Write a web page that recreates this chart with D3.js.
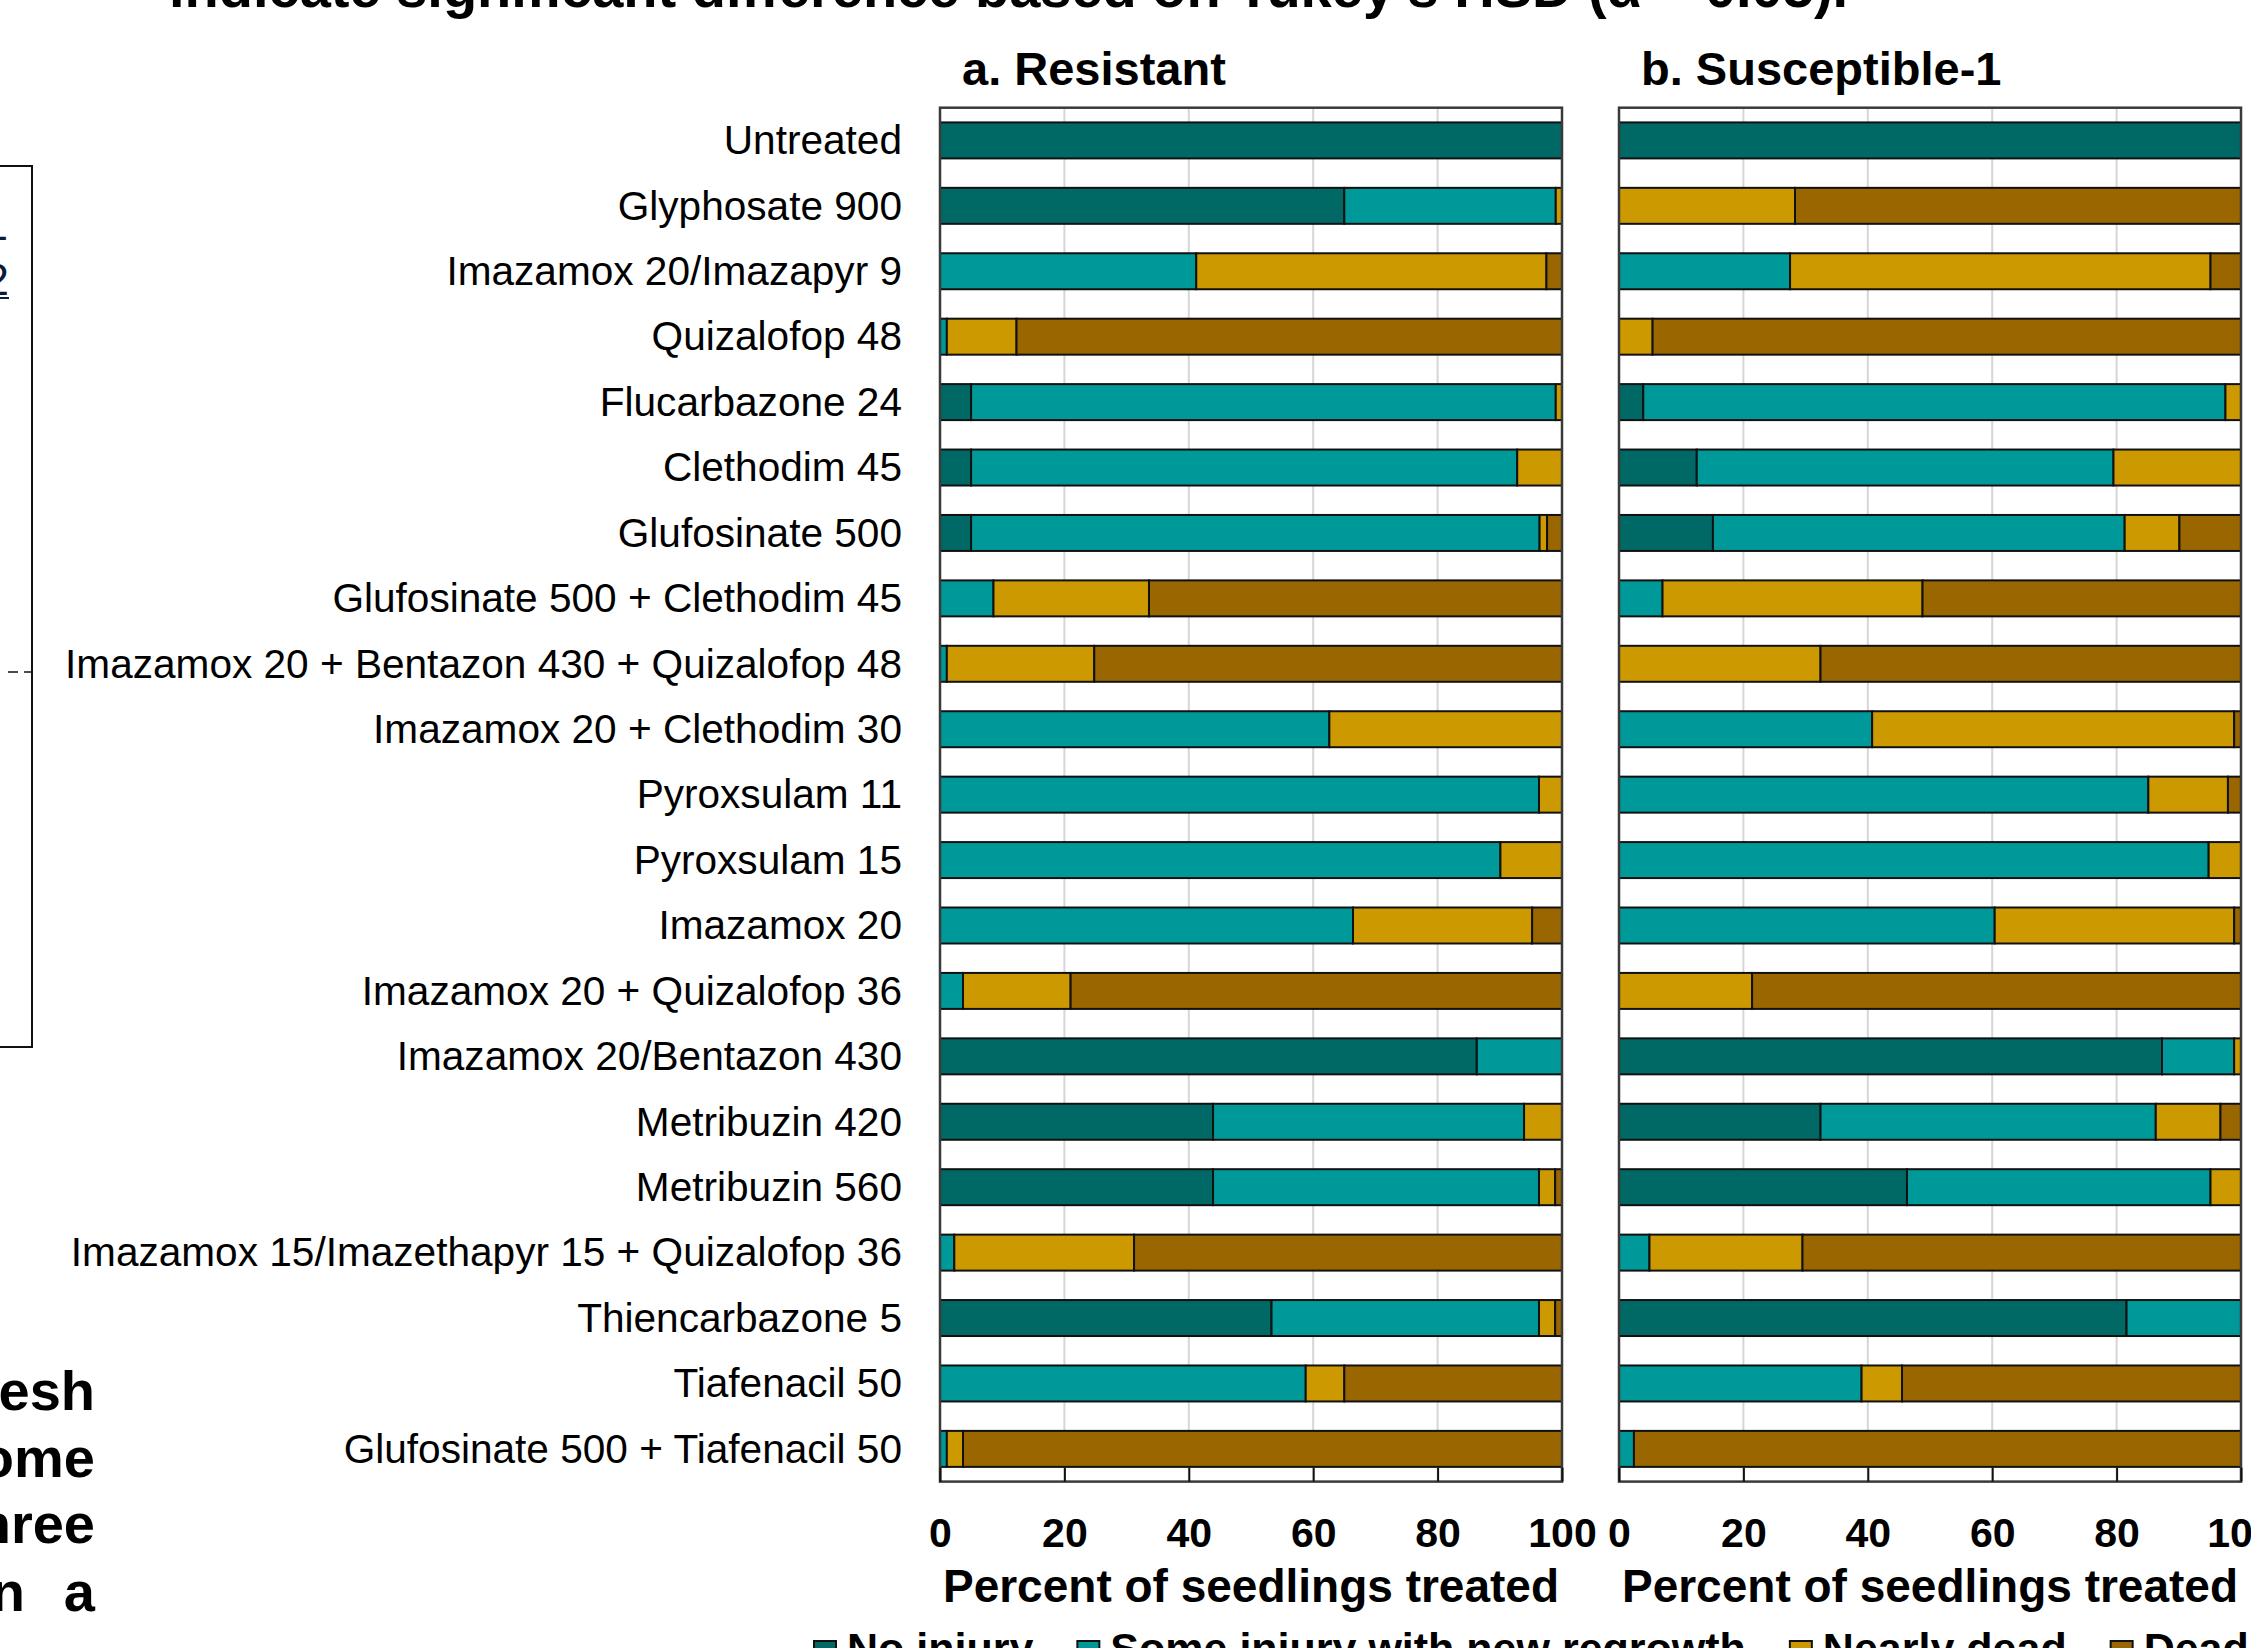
<!DOCTYPE html>
<html>
<head>
<meta charset="utf-8">
<script src="https://cdn.jsdelivr.net/npm/d3@7"></script>
<style>
  html, body { margin: 0; padding: 0; background: #fff; }
  svg { display: block; }
  text { font-family: "Liberation Sans", Arial, Helvetica, sans-serif; }
</style>
</head>
<body>
<svg id="chart" width="2251" height="1648"></svg>
<script>
// Herbicide treatments (top to bottom)
const treatments = [
  "Untreated",
  "Glyphosate 900",
  "Imazamox 20/Imazapyr 9",
  "Quizalofop 48",
  "Flucarbazone 24",
  "Clethodim 45",
  "Glufosinate 500",
  "Glufosinate 500 + Clethodim 45",
  "Imazamox 20 + Bentazon 430 + Quizalofop 48",
  "Imazamox 20 + Clethodim 30",
  "Pyroxsulam 11",
  "Pyroxsulam 15",
  "Imazamox 20",
  "Imazamox 20 + Quizalofop 36",
  "Imazamox 20/Bentazon 430",
  "Metribuzin 420",
  "Metribuzin 560",
  "Imazamox 15/Imazethapyr 15 + Quizalofop 36",
  "Thiencarbazone 5",
  "Tiafenacil 50",
  "Glufosinate 500 + Tiafenacil 50"
];

const injuryClasses = ["No injury", "Some injury with new regrowth", "Nearly dead", "Dead"];
const classColors = ["#006966", "#009999", "#CC9900", "#996600"];
const xTicks = [0, 20, 40, 60, 80, 100];

// a. Resistant population (% of seedlings treated)
const resistantNoInjury   = [100, 65, 0, 0, 5, 5, 5, 0, 0, 0, 0, 0, 0, 0, 86.3, 43.9, 43.9, 0, 53.3, 0, 0];
const resistantSomeInjury = [0, 34, 41.2, 1.1, 94, 87.8, 91.4, 8.6, 1.1, 62.6, 96.3, 90.1, 66.4, 3.7, 13.7, 50, 52.4, 2.3, 43, 58.8, 1.1];
const resistantNearlyDead = [0, 1, 56.3, 11.2, 1, 7.2, 1.2, 25, 23.7, 37.4, 3.7, 9.9, 28.8, 17.3, 0, 6.1, 2.6, 28.9, 2.6, 6.2, 2.6];
const resistantDead       = [0, 0, 2.5, 87.7, 0, 0, 2.4, 66.4, 75.2, 0, 0, 0, 4.8, 79, 0, 0, 1.1, 68.8, 1.1, 35, 96.3];

// b. Susceptible-1 population (% of seedlings treated)
const susceptibleNoInjury   = [100, 0, 0, 0, 3.9, 12.5, 15.1, 0, 0, 0, 0, 0, 0, 0, 87.3, 32.4, 46.3, 0, 81.6, 0, 0];
const susceptibleSomeInjury = [0, 0, 27.5, 0, 93.6, 67, 66.2, 7, 0, 40.7, 85.1, 94.8, 60.4, 0, 11.6, 53.9, 48.8, 4.9, 18.4, 39, 2.4];
const susceptibleNearlyDead = [0, 28.3, 67.6, 5.4, 2.5, 20.5, 8.8, 41.8, 32.4, 58.2, 12.8, 5.2, 38.5, 21.4, 1.1, 10.4, 4.9, 24.6, 0, 6.5, 0];
const susceptibleDead       = [0, 71.7, 4.9, 94.6, 0, 0, 9.9, 51.2, 67.6, 1.1, 2.1, 0, 1.1, 78.6, 0, 3.3, 0, 70.5, 0, 54.5, 97.6];

const svg = d3.select("#chart");
const FONT = '"Liberation Sans", Arial, Helvetica, sans-serif';

const plotTop = 107.7, plotBottom = 1481.6;
const y = d3.scaleBand()
  .domain(treatments)
  .range([plotTop, plotBottom])
  .paddingInner(0.45)
  .paddingOuter(0.225);

const color = d3.scaleOrdinal().domain(injuryClasses).range(classColors);

function rows(series) {
  return treatments.map((t, i) => {
    const r = { treatment: t };
    injuryClasses.forEach((c, k) => { r[c] = series[k][i]; });
    return r;
  });
}

const panels = [
  { title: "a. Resistant", x0: 940, x1: 1562, showLabels: true,
    data: rows([resistantNoInjury, resistantSomeInjury, resistantNearlyDead, resistantDead]) },
  { title: "b. Susceptible-1", x0: 1619, x1: 2241, showLabels: false,
    data: rows([susceptibleNoInjury, susceptibleSomeInjury, susceptibleNearlyDead, susceptibleDead]) }
];

const stack = d3.stack().keys(injuryClasses);

panels.forEach(p => {
  const x = d3.scaleLinear().domain([0, 100]).range([p.x0, p.x1]);
  const g = svg.append("g");

  // vertical gridlines
  g.append("g").selectAll("line")
    .data(xTicks.slice(1, -1))
    .join("line")
    .attr("x1", d => x(d)).attr("x2", d => x(d))
    .attr("y1", plotTop).attr("y2", plotBottom)
    .attr("stroke", "#d6d6d6").attr("stroke-width", 2);

  // stacked bars
  const layers = stack(p.data);
  g.append("g").selectAll("g")
    .data(layers)
    .join("g")
    .attr("fill", d => color(d.key))
    .selectAll("rect")
    .data(d => d.filter(s => s[1] - s[0] > 0))
    .join("rect")
    .attr("x", s => x(s[0]))
    .attr("y", s => y(s.data.treatment))
    .attr("width", s => x(s[1]) - x(s[0]))
    .attr("height", y.bandwidth())
    .attr("stroke", "#111")
    .attr("stroke-width", 2);

  // plot frame
  g.append("rect")
    .attr("x", p.x0).attr("y", plotTop)
    .attr("width", p.x1 - p.x0).attr("height", plotBottom - plotTop)
    .attr("fill", "none").attr("stroke", "#3a3a3a").attr("stroke-width", 2.5);

  // bottom axis with inward tick marks
  const xAxis = d3.axisBottom(x)
    .tickValues(xTicks)
    .tickSizeInner(-14)
    .tickSizeOuter(0)
    .tickPadding(36)
    .tickFormat(d3.format("d"));
  const ax = g.append("g")
    .attr("transform", `translate(0,${plotBottom})`)
    .call(xAxis);
  ax.select(".domain").remove();
  ax.selectAll(".tick line").attr("stroke", "#111").attr("stroke-width", 2);
  ax.selectAll(".tick text")
    .attr("fill", "#000")
    .style("font-family", FONT)
    .style("font-size", "41px")
    .style("font-weight", "bold");

  // category labels
  if (p.showLabels) {
    const yAxis = d3.axisLeft(y).tickSize(0).tickPadding(38);
    const ay = g.append("g")
      .attr("transform", `translate(${p.x0},0)`)
      .call(yAxis);
    ay.select(".domain").remove();
    ay.selectAll(".tick text")
      .attr("fill", "#000")
      .attr("dy", "0.34em")
      .style("font-family", FONT)
      .style("font-size", "40.6px");
  }

  // panel title
  svg.append("text")
    .attr("x", p.x0 + 22).attr("y", 85)
    .style("font-size", "47px").style("font-weight", "bold")
    .text(p.title);

  // axis title
  svg.append("text")
    .attr("x", (p.x0 + p.x1) / 2).attr("y", 1602)
    .attr("text-anchor", "middle")
    .style("font-size", "46px").style("font-weight", "bold")
    .text("Percent of seedlings treated");
});

// legend
const legend = svg.append("g");
let lx = 814;
injuryClasses.forEach((c, i) => {
  legend.append("rect")
    .attr("x", lx).attr("y", 1641)
    .attr("width", 22).attr("height", 22)
    .attr("fill", color(c)).attr("stroke", "#111").attr("stroke-width", 2);
  const t = legend.append("text")
    .attr("x", lx + 33).attr("y", 1663)
    .style("font-size", "43px").style("font-weight", "bold")
    .text(c);
  lx += 33 + t.node().getComputedTextLength() + 44;
});

// surrounding page text and neighbouring frame
svg.append("text")
  .attr("x", 169).attr("y", 7)
  .style("font-size", "56px").style("font-weight", "bold")
  .text("indicate significant difference based on Tukey\u2019s HSD (\u03b1 = 0.05).");

const side = svg.append("g");
side.append("path")
  .attr("d", "M0,166 H32 V1047 H0")
  .attr("fill", "none").attr("stroke", "#111").attr("stroke-width", 2);
side.append("text").attr("x", 8).attr("y", 240).attr("text-anchor", "end")
  .attr("fill", "#0d1a3a").style("font-size", "45px").text("1");
side.append("text").attr("x", 9).attr("y", 295).attr("text-anchor", "end")
  .attr("fill", "#0d1a3a").style("font-size", "45px").text("2");
side.append("line").attr("x1", 0).attr("x2", 9).attr("y1", 298).attr("y2", 298)
  .attr("stroke", "#0d1a3a").attr("stroke-width", 2);
side.append("line").attr("x1", 8).attr("x2", 32).attr("y1", 672).attr("y2", 672)
  .attr("stroke", "#111").attr("stroke-width", 1.5).attr("stroke-dasharray", "10 6");

const fragments = [
  { t: "esh", y: 1410 },
  { t: "ome", y: 1477 },
  { t: "hree", y: 1543 },
  { t: "a", y: 1611 }
];
fragments.forEach(f => {
  side.append("text").attr("x", 95).attr("y", f.y).attr("text-anchor", "end")
    .style("font-size", "56px").style("font-weight", "bold").text(f.t);
});
side.append("text").attr("x", 25).attr("y", 1611).attr("text-anchor", "end")
  .style("font-size", "56px").style("font-weight", "bold").text("n");
</script>
</body>
</html>
